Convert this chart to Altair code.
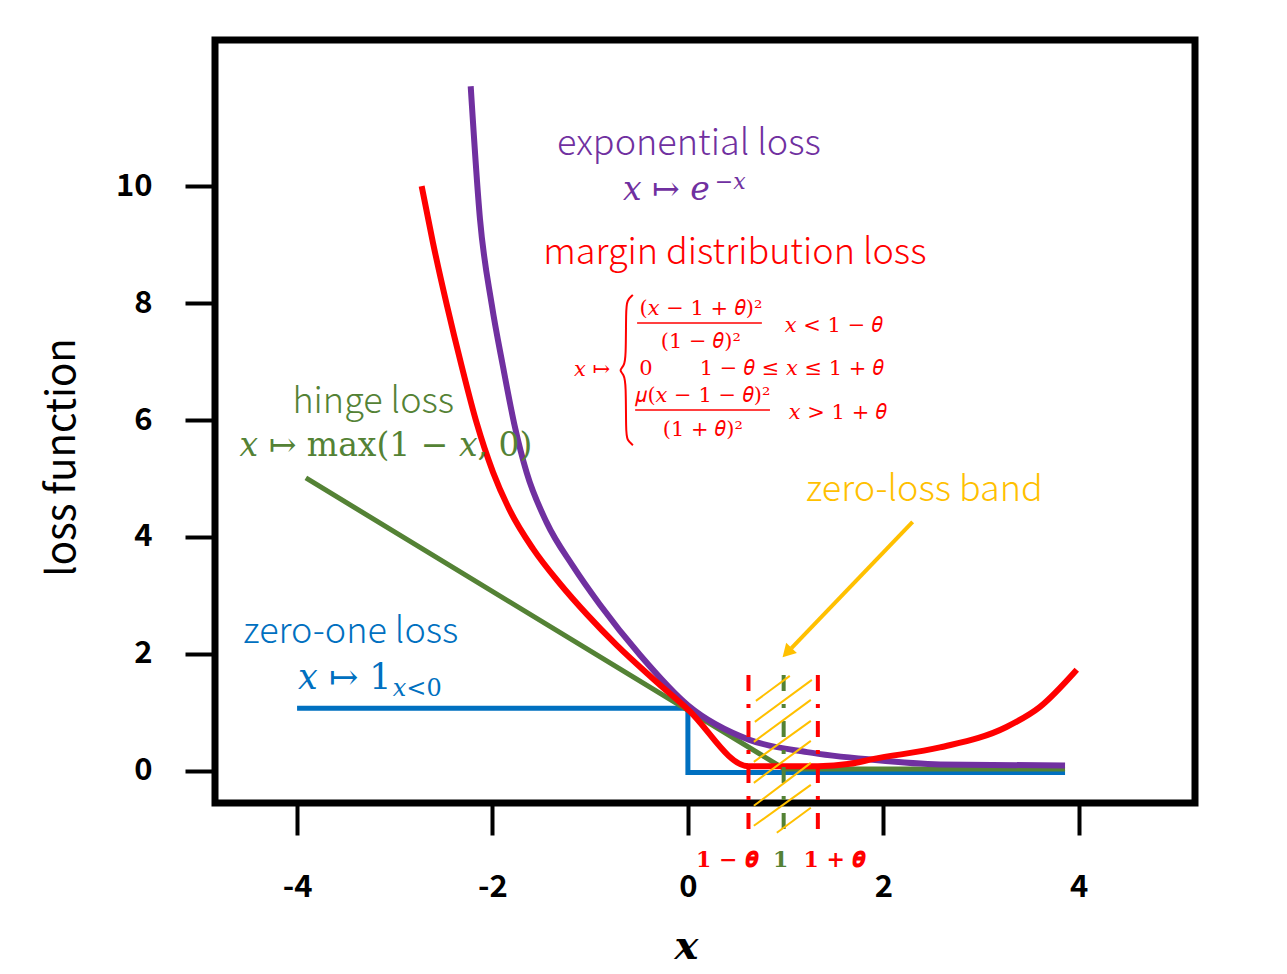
import altair as alt
import pandas as pd

PURPLE = "#7030A0"
RED = "#FF0000"
GREEN = "#548235"
BLUE = "#0070C0"
YELLOW = "#FFC000"

# ---- curves ----
exp_x = [-2.223, -2.128, -2.008, -1.893, -1.770, -1.650, -1.446, -1.176, -0.90, -0.49, 0.0,
         0.63, 1.22, 1.89, 2.58, 3.86]
exp_y = [11.71, 9.44, 7.98, 6.92, 5.88, 5.10, 4.25, 3.50, 2.84, 1.98, 1.12,
         0.53, 0.32, 0.19, 0.11, 0.09]

md_x = [-2.725, -2.609, -2.469, -2.315, -2.162, -1.995, -1.821, -1.586, -1.309, -1.036, -0.729, -0.36, 0.0,
        0.62, 1.33, 1.66, 1.89, 2.58, 3.26, 3.60, 3.98]
md_y = [10.0, 9.03, 7.98, 6.92, 5.95, 5.11, 4.45, 3.80, 3.20, 2.68, 2.15, 1.58, 1.05,
        0.08, 0.08, 0.12, 0.20, 0.40, 0.75, 1.09, 1.73]

hinge_x = [-3.91, 0.99, 3.86]
hinge_y = [5.01, 0.03, 0.03]

zo_x = [-4.00, 0.0, 0.0, 3.86]
zo_y = [1.07, 1.07, -0.03, -0.03]

# band markers
band_x = [0.62, 0.98, 1.33]
band_color = [RED, GREEN, RED]
band_top = 1.64
band_bottom = -1.01

hatch_x1 = [0.696, 0.685, 0.675, 0.675, 0.675, 0.675, 0.675, 0.910]
hatch_y1 = [1.197, 0.838, 0.496, 0.154, -0.205, -0.598, -0.940, -1.060]
hatch_x2 = [1.043, 1.269, 1.258, 1.258, 1.258, 1.258, 1.258, 1.258]
hatch_y2 = [1.624, 1.556, 1.214, 0.855, 0.513, 0.137, -0.239, -0.632]

band_labels = ["1 − 𝜽", "1", "1 + 𝜽"]
band_label_x = [0.40, 0.95, 1.50]
band_label_color = [RED, GREEN, RED]
band_label_y = -1.52

# ---- annotation texts ----
name_text = ["exponential loss", "margin distribution loss", "hinge loss", "zero-one loss", "zero-loss band"]
name_x = [0.01, 0.48, -3.22, -3.45, 2.42]
name_y = [10.72, 8.85, 6.31, 2.38, 4.80]
name_color = [PURPLE, RED, GREEN, BLUE, YELLOW]

math_text = ["𝑥 ↦ 𝑒", "𝑥 ↦ max(1 − 𝑥, 0)", "𝑥 ↦ 1"]
math_x = [-0.665, -3.09, -3.99]
math_y = [9.93, 5.56, 1.59]
math_align = ["left", "center", "left"]
math_color = [PURPLE, GREEN, BLUE]
math_size = [33, 33, 35]

small_text = ["−𝑥", "𝑥<0"]
small_x = [0.276, -3.02]
small_y = [10.07, 1.40]
small_color = [PURPLE, BLUE]
small_size = [22, 24]

f_text = ["𝑥 ↦", "(𝑥 − 1 + 𝜃)²", "(1 − 𝜃)²", "𝑥 < 1 − 𝜃", "0", "1 − 𝜃 ≤ 𝑥 ≤ 1 + 𝜃",
          "𝜇(𝑥 − 1 − 𝜃)²", "(1 + 𝜃)²", "𝑥 > 1 + 𝜃"]
f_x = [-0.982, 0.133, 0.133, 1.494, -0.43, 1.064, 0.153, 0.153, 1.535]
f_y = [6.85, 7.90, 7.33, 7.61, 6.87, 6.87, 6.41, 5.83, 6.12]

frac_x1 = [-0.52, -0.54]
frac_x2 = [0.757, 0.84]
frac_y = [7.66, 6.17]

brace_x = [-0.563, -0.624, -0.634, -0.634, -0.655, -0.706, -0.655, -0.634, -0.634, -0.624, -0.563]
brace_y = [8.14, 8.05, 7.88, 7.06, 6.92, 6.85, 6.78, 6.63, 5.80, 5.66, 5.57]

arrow_x1, arrow_y1, arrow_x2, arrow_y2 = [2.30], [4.26], [1.06], [2.10]
arrow_head_x, arrow_head_y = [1.03], [2.05]

# ---- scales / axes ----
xscale = alt.Scale(domain=[-4.84, 5.19], nice=False, zero=False)
yscale = alt.Scale(domain=[-0.55, 12.5], nice=False, zero=False)

xaxis = alt.Axis(values=[-4, -2, 0, 2, 4], labelExpr="'' + datum.value", grid=False, domain=False,
                 tickSize=32, tickWidth=4, tickColor="black",
                 labelFont="Noto Sans CJK SC", labelFontSize=31, labelFontWeight="bold",
                 labelColor="black", labelPadding=37,
                 title="x", titleFont="DejaVu Serif", titleFontStyle="italic", titleFontWeight="bold",
                 titleFontSize=40, titleColor="black", titleX=471, titleY=143,
                 titleBaseline="middle", titleAlign="center")
yaxis = alt.Axis(values=[0, 2, 4, 6, 8, 10], grid=False, domain=False,
                 tickSize=30, tickWidth=4, tickColor="black",
                 labelFont="Noto Sans CJK SC", labelFontSize=31, labelFontWeight="bold",
                 labelColor="black", labelPadding=33,
                 title="loss function", titleFont="Noto Sans CJK SC", titleFontWeight="normal",
                 titleFontSize=40, titleColor="black", titleX=-153, titleY=417, titleAngle=270,
                 titleBaseline="middle", titleAlign="center")


def X(f="x"):
    return alt.X(f, type="quantitative", scale=xscale, axis=xaxis)


def Y(f="y"):
    return alt.Y(f, type="quantitative", scale=yscale, axis=yaxis)


def line(xs, ys, color, width, interp="linear"):
    return alt.Chart(pd.DataFrame({"x": xs, "y": ys})).mark_line(
        color=color, strokeWidth=width, interpolate=interp).encode(x=X(), y=Y())


layers = []
layers.append(line(zo_x, zo_y, BLUE, 5))
layers.append(line(hinge_x, hinge_y, GREEN, 5))
layers.append(line(exp_x, exp_y, PURPLE, 6, "monotone"))
layers.append(line(md_x, md_y, RED, 6, "monotone"))

# dashed band lines
for bx, bc in zip(band_x, band_color):
    layers.append(alt.Chart(pd.DataFrame({"x": [bx], "y": [band_top], "y2": [band_bottom]})).mark_rule(
        color=bc, strokeWidth=4, strokeDash=[16, 13, 4, 13]).encode(x=X(), y=Y(), y2="y2:Q"))

# hatch
layers.append(alt.Chart(pd.DataFrame({"x": hatch_x1, "y": hatch_y1, "x2": hatch_x2, "y2": hatch_y2})).mark_rule(
    color=YELLOW, strokeWidth=2).encode(x=X(), y=Y(), x2="x2:Q", y2="y2:Q"))

# arrow
layers.append(alt.Chart(pd.DataFrame({"x": arrow_x1, "y": arrow_y1, "x2": arrow_x2, "y2": arrow_y2})).mark_rule(
    color=YELLOW, strokeWidth=4).encode(x=X(), y=Y(), x2="x2:Q", y2="y2:Q"))
layers.append(alt.Chart(pd.DataFrame({"x": arrow_head_x, "y": arrow_head_y})).mark_point(
    shape="triangle", filled=True, angle=224, size=220, color=YELLOW, opacity=1).encode(x=X(), y=Y()))

# band labels
layers.append(alt.Chart(pd.DataFrame({"x": band_label_x, "y": [band_label_y] * 3, "t": band_labels,
                                      "c": band_label_color})).mark_text(
    font="DejaVu Serif", fontSize=22, fontWeight="bold", baseline="middle", align="center").encode(
    x=X(), y=Y(), text="t:N", color=alt.Color("c:N", scale=None)))

# names
layers.append(alt.Chart(pd.DataFrame({"x": name_x, "y": name_y, "t": name_text, "c": name_color})).mark_text(
    font="Noto Sans CJK SC", fontSize=36, fontWeight=300, baseline="middle", align="center").encode(
    x=X(), y=Y(), text="t:N", color=alt.Color("c:N", scale=None)))

# math
for t, mx, my, ma, mc, ms in zip(math_text, math_x, math_y, math_align, math_color, math_size):
    layers.append(alt.Chart(pd.DataFrame({"x": [mx], "y": [my], "t": [t]})).mark_text(
        font="DejaVu Serif", fontSize=ms, baseline="middle", align=ma, color=mc).encode(
        x=X(), y=Y(), text="t:N"))
for t, sx, sy, sc, ss in zip(small_text, small_x, small_y, small_color, small_size):
    layers.append(alt.Chart(pd.DataFrame({"x": [sx], "y": [sy], "t": [t]})).mark_text(
        font="DejaVu Serif", fontSize=ss, baseline="middle", align="left", color=sc).encode(
        x=X(), y=Y(), text="t:N"))

# formula block
layers.append(alt.Chart(pd.DataFrame({"x": f_x, "y": f_y, "t": f_text})).mark_text(
    font="DejaVu Serif", fontSize=21, baseline="middle", align="center", color=RED).encode(
    x=X(), y=Y(), text="t:N"))
layers.append(alt.Chart(pd.DataFrame({"x": frac_x1, "x2": frac_x2, "y": frac_y})).mark_rule(
    color=RED, strokeWidth=1.5).encode(x=X(), x2="x2:Q", y=Y()))
layers.append(alt.Chart(pd.DataFrame({"x": brace_x, "y": brace_y, "o": list(range(len(brace_x)))})).mark_line(
    color=RED, strokeWidth=2, interpolate="basis").encode(x=X(), y=Y(), order="o:Q"))

chart = alt.layer(*layers).properties(
    width=980, height=763,
    autosize=alt.AutoSizeParams(type="none"),
    padding={"left": 215, "top": 40, "right": 92, "bottom": 171},
    background="white",
).configure_view(stroke="black", strokeWidth=7)

chart.save("out.html", embed_options={"renderer": "svg", "actions": False})
